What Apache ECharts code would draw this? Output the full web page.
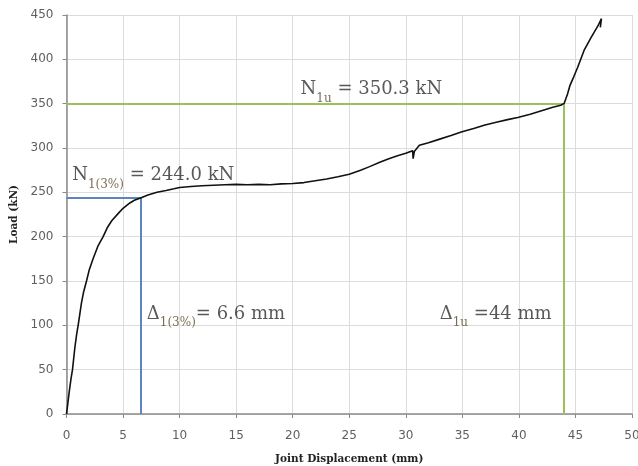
<!DOCTYPE html>
<html>
<head>
<meta charset="utf-8">
<script src="https://cdn.jsdelivr.net/npm/echarts@6/dist/echarts.min.js"></script>
<style>
  html, body { margin: 0; padding: 0; background: #fff; }
  #chart { width: 638px; height: 466px; }
</style>
</head>
<body>
<div id="chart"></div>
<script>
// joint displacement (mm) vs load (kN)
const displacement = [
  0, 0.1, 0.24, 0.4, 0.53, 0.74, 0.9, 1.03, 1.32, 1.5, 1.77, 2.0, 2.35, 2.8, 3.24, 3.6, 4.0, 4.56, 5.0, 5.6,
  6.0, 6.6, 7.2, 8.0, 8.8, 9.5, 10.0, 11.0, 12.0, 13.0, 14.0, 15.0, 16.0, 17.0, 18.0, 19.0, 20.0, 21.0,
  22.0, 23.0, 24.0, 25.0, 26.0, 26.8, 27.7, 28.5, 29.2, 30.0, 30.6, 30.65, 30.75, 31.2, 32.0, 33.0, 34.0,
  34.9, 36.0, 37.0, 38.0, 39.0, 39.9, 41.0, 42.0, 43.0, 43.7, 44.0, 44.3, 44.5, 44.84, 45.2, 45.76, 46.4,
  47.0, 47.3, 47.2
]
const load = [
  0, 10, 25, 40, 50, 75, 90, 100, 125, 137, 150, 162, 175, 190, 200, 210, 218, 226, 232, 238,
  241, 244, 247, 250, 252, 254, 255.5, 256.5, 257.5, 258, 258.5, 259, 258.5, 259, 258.5, 259.5, 260, 261,
  263, 265, 267.5, 270.5, 275, 279, 284, 288, 291, 294, 297, 288, 296, 303, 306, 310, 314,
  318, 322, 326, 329, 332, 334.5, 338, 342, 346, 348.3, 350.3, 361, 370, 380, 391, 410, 425,
  438, 446, 436
]

// characteristic points
const d3pct = 6.6
const n3pct = 244.0
const dUlt = 44
const nUlt = 350.3

// annotation anchors [x, y] in data units and their texts
const noteAnchors = [[20.7, 369], [0.5, 272], [7.1, 116], [33.0, 116]]
const noteTexts = [
  '{t|N}{s|1u}{t| = 350.3 kN}',
  '{t|N}{s|1(3%)}{t| = 244.0 kN}',
  '{t|Δ}{s|1(3%)}{t|= 6.6 mm}',
  '{t|Δ}{s|1u}{t| =44 mm}'
]

const xTicks = { min: 0, max: 50, interval: 5 }
const yTicks = { min: 0, max: 450, interval: 50 }

const chart = echarts.init(document.getElementById('chart'), null, { renderer: 'canvas' })

const curve = displacement.map((x, i) => [x, load[i]])

const option = {
  backgroundColor: '#fff',
  animation: false,
  grid: { left: 66.5, right: 6, top: 15, bottom: 52, outerBoundsMode: 'none', containLabel: false },
  xAxis: {
    type: 'value',
    min: xTicks.min,
    max: xTicks.max,
    interval: xTicks.interval,
    name: 'Joint Displacement (mm)',
    nameLocation: 'middle',
    nameGap: 40,
    nameTextStyle: { fontFamily: 'DejaVu Serif', fontWeight: 'bold', fontSize: 10.5, color: '#222' },
    axisLine: { lineStyle: { color: '#8a8a8a', width: 1.5 } },
    axisTick: { show: true, length: 4, lineStyle: { color: '#8a8a8a' } },
    axisLabel: { margin: 16, fontFamily: 'DejaVu Sans', fontSize: 12, color: '#5f5f5f' },
    splitLine: { lineStyle: { color: '#dcdcdc', width: 1 } }
  },
  yAxis: {
    type: 'value',
    min: yTicks.min,
    max: yTicks.max,
    interval: yTicks.interval,
    name: 'Load (kN)',
    nameLocation: 'middle',
    nameGap: 47,
    nameTextStyle: { fontFamily: 'DejaVu Serif', fontWeight: 'bold', fontSize: 10.5, color: '#222' },
    axisLine: { show: true, lineStyle: { color: '#8a8a8a', width: 1.5 } },
    axisTick: { show: true, length: 4, lineStyle: { color: '#8a8a8a' } },
    axisLabel: { margin: 13, fontFamily: 'DejaVu Sans', fontSize: 12, color: '#5f5f5f' },
    splitLine: { lineStyle: { color: '#dcdcdc', width: 1 } }
  },
  series: [
    {
      type: 'line',
      data: [],
      symbol: 'none',
      silent: true,
      markLine: {
        symbol: 'none',
        silent: true,
        label: { show: false },
        lineStyle: { type: 'solid', width: 2 },
        data: [
          [{ coord: [0, n3pct], lineStyle: { color: '#5b86bd' } }, { coord: [d3pct, n3pct] }],
          [{ coord: [d3pct, 0], lineStyle: { color: '#5b86bd' } }, { coord: [d3pct, n3pct] }],
          [{ coord: [0, nUlt], lineStyle: { color: '#9bc25a' } }, { coord: [dUlt, nUlt] }],
          [{ coord: [dUlt, 0], lineStyle: { color: '#9bc25a' } }, { coord: [dUlt, nUlt] }]
        ]
      }
    },
    {
      type: 'line',
      data: curve,
      symbol: 'none',
      smooth: false,
      lineStyle: { color: '#111', width: 1.6 },
      z: 5
    },
    {
      type: 'scatter',
      symbolSize: 0,
      silent: true,
      z: 6,
      data: noteAnchors.map((p, i) => ({ value: p, text: noteTexts[i] })),
      label: {
        show: true,
        position: [0, 0],
        align: 'left',
        verticalAlign: 'middle',
        formatter: p => p.data.text,
        rich: {
          t: { fontFamily: 'DejaVu Serif', fontSize: 18, color: '#2e2e2e', lineHeight: 24, verticalAlign: 'bottom' },
          s: { fontFamily: 'DejaVu Serif', fontSize: 12, color: '#5a4a2a', lineHeight: 24, verticalAlign: 'bottom', padding: [0, 0, -6, 0] }
        }
      }
    }
  ]
}

chart.setOption(option)
</script>
</body>
</html>
